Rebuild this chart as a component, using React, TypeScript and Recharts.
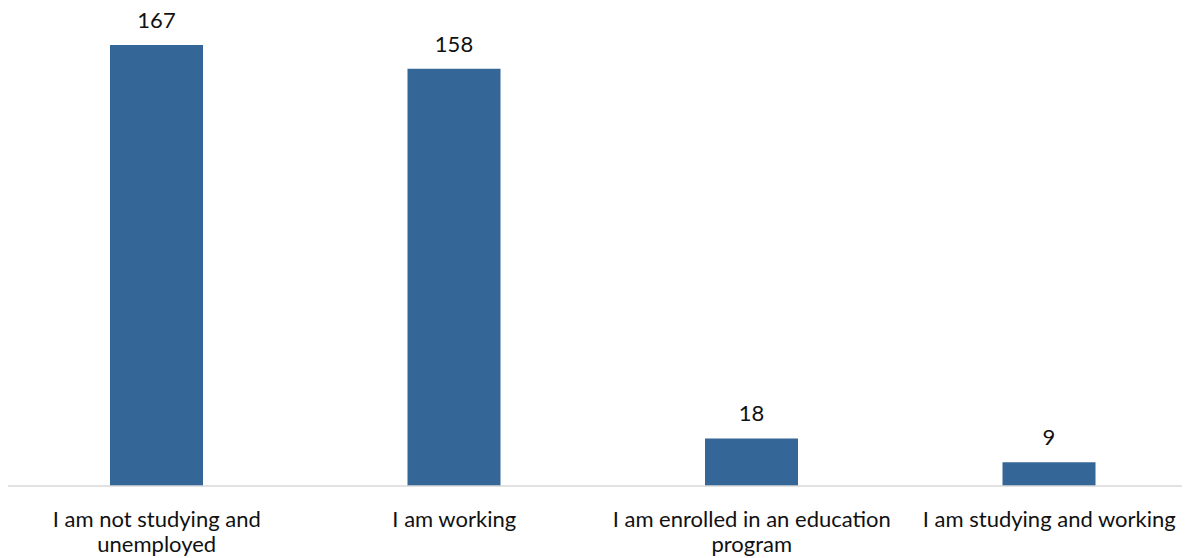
import React from "react";
import { BarChart, Bar, XAxis, YAxis, LabelList } from "recharts";

const categories = [
  "I am not studying and unemployed",
  "I am working",
  "I am enrolled in an education program",
  "I am studying and working",
];
const counts = [167, 158, 18, 9];

const data = categories.map((name, i) => ({ name, value: counts[i] }));

const FONT = "Lato, 'Open Sans', sans-serif";
const FONT_SIZE = 22;
const WRAP_WIDTH = 297;
const LINE_HEIGHT = 25;

let measureCtx: CanvasRenderingContext2D | null = null;
const measure = (s: string) => {
  if (!measureCtx) {
    const c = document.createElement("canvas");
    measureCtx = c.getContext("2d");
  }
  if (!measureCtx) return s.length * FONT_SIZE * 0.5;
  measureCtx.font = `${FONT_SIZE}px Lato`;
  return measureCtx.measureText(s).width;
};

const wrap = (text: string) => {
  const words = text.split(" ");
  const lines: string[] = [];
  let cur = "";
  for (const w of words) {
    const next = cur ? cur + " " + w : w;
    if (cur && measure(next) > WRAP_WIDTH) {
      lines.push(cur);
      cur = w;
    } else {
      cur = next;
    }
  }
  if (cur) lines.push(cur);
  return lines;
};

const CategoryTick = (props: any) => {
  const { x, y, payload } = props;
  const lines = wrap(String(payload.value));
  return (
    <text
      x={x}
      y={y + 41}
      textAnchor="middle"
      style={{ fontFamily: FONT, fontSize: FONT_SIZE, fill: "#111" }}
    >
      {lines.map((l, i) => (
        <tspan key={i} x={x} dy={i === 0 ? 0 : LINE_HEIGHT}>
          {l}
        </tspan>
      ))}
    </text>
  );
};

export default function App() {
  return (
    <div style={{ width: 1182, overflow: "hidden", marginTop: -8 }}>
      <BarChart
        width={1190}
        height={558}
        data={data}
        margin={{ top: 45, right: 0, bottom: 12, left: 0 }}
      >
        <XAxis
          dataKey="name"
          axisLine={{ stroke: "#d9d9d9", strokeWidth: 1.5 }}
          tickLine={false}
          tickSize={0}
          tickMargin={0}
          height={60}
          interval={0}
          tick={<CategoryTick />}
        />
        <YAxis hide domain={[0, 167]} />
        <Bar
          dataKey="value"
          fill="#346798"
          barSize={93}
          isAnimationActive={false}
        >
          <LabelList
            dataKey="value"
            position="top"
            offset={17}
            style={{ fontFamily: FONT, fontSize: FONT_SIZE, fill: "#111" }}
          />
        </Bar>
      </BarChart>
    </div>
  );
}
